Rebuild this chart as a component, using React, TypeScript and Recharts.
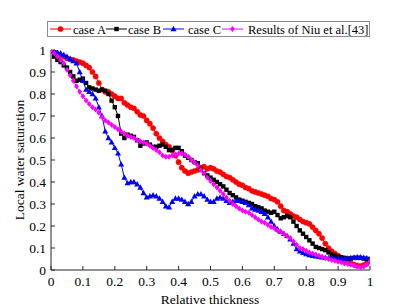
import React from 'react';
import { LineChart, Line, XAxis, YAxis } from 'recharts';

const xs = [
  0, 0.01, 0.02, 0.03, 0.04, 0.05, 0.06, 0.07, 0.08, 0.09,
  0.1, 0.11, 0.12, 0.13, 0.14, 0.15, 0.16, 0.17, 0.18, 0.19,
  0.2, 0.21, 0.22, 0.23, 0.24, 0.25, 0.26, 0.27, 0.28, 0.29,
  0.3, 0.31, 0.32, 0.33, 0.34, 0.35, 0.36, 0.37, 0.38, 0.39,
  0.4, 0.41, 0.42, 0.43, 0.44, 0.45, 0.46, 0.47, 0.48, 0.49,
  0.5, 0.51, 0.52, 0.53, 0.54, 0.55, 0.56, 0.57, 0.58, 0.59,
  0.6, 0.61, 0.62, 0.63, 0.64, 0.65, 0.66, 0.67, 0.68, 0.69,
  0.7, 0.71, 0.72, 0.73, 0.74, 0.75, 0.76, 0.77, 0.78, 0.79,
  0.8, 0.81, 0.82, 0.83, 0.84, 0.85, 0.86, 0.87, 0.88, 0.89,
  0.9, 0.91, 0.92, 0.93, 0.94, 0.95, 0.96, 0.97, 0.98, 0.99, 1,
];

const caseA = [
  1.0, 0.99, 0.98, 0.975, 0.97, 0.962, 0.957, 0.955, 0.95, 0.945,
  0.94, 0.93, 0.92, 0.9, 0.88, 0.85, 0.82, 0.81, 0.81, 0.8,
  0.79, 0.78, 0.78, 0.76, 0.75, 0.74, 0.735, 0.72, 0.705, 0.7,
  0.68, 0.665, 0.645, 0.62, 0.6, 0.585, 0.57, 0.56, 0.545, 0.52,
  0.49, 0.465, 0.45, 0.44, 0.445, 0.45, 0.455, 0.465, 0.47, 0.46,
  0.465, 0.46, 0.45, 0.445, 0.435, 0.425, 0.42, 0.41, 0.4, 0.39,
  0.385, 0.375, 0.37, 0.36, 0.355, 0.35, 0.345, 0.34, 0.335, 0.325,
  0.32, 0.31, 0.29, 0.27, 0.265, 0.255, 0.245, 0.24, 0.23, 0.22,
  0.215, 0.21, 0.195, 0.18, 0.165, 0.145, 0.12, 0.1, 0.085, 0.075,
  0.065, 0.055, 0.045, 0.04, 0.03, 0.025, 0.02, 0.018, 0.022, 0.03, 0.04,
];

const caseB = [
  1.0, 0.97, 0.955, 0.945, 0.93, 0.92, 0.9, 0.88, 0.86, 0.865,
  0.87, 0.85, 0.83, 0.825, 0.82, 0.815, 0.82, 0.815, 0.8, 0.77,
  0.74, 0.7, 0.62, 0.6, 0.615, 0.61, 0.605, 0.59, 0.565, 0.575,
  0.58, 0.57, 0.56, 0.56, 0.565, 0.57, 0.56, 0.545, 0.545, 0.555,
  0.555, 0.54, 0.52, 0.51, 0.5, 0.49, 0.485, 0.46, 0.44, 0.43,
  0.42, 0.41, 0.4, 0.39, 0.38, 0.365, 0.35, 0.34, 0.33, 0.32,
  0.315, 0.31, 0.305, 0.3, 0.29, 0.285, 0.28, 0.27, 0.265, 0.26,
  0.265, 0.25, 0.235, 0.24, 0.245, 0.24, 0.22, 0.2, 0.18, 0.165,
  0.15, 0.135, 0.12, 0.105, 0.1, 0.095, 0.09, 0.08, 0.07, 0.065,
  0.06, 0.058, 0.055, 0.052, 0.052, 0.055, 0.055, 0.055, 0.052, 0.05, 0.045,
];

const caseC = [
  1.0, 0.995, 0.99, 0.985, 0.978, 0.97, 0.96, 0.95, 0.94, 0.9,
  0.86, 0.82, 0.81, 0.8, 0.78, 0.74, 0.7, 0.63, 0.6, 0.58,
  0.555, 0.53, 0.48, 0.42, 0.395, 0.4, 0.4, 0.39, 0.375, 0.35,
  0.33, 0.335, 0.34, 0.335, 0.325, 0.31, 0.29, 0.285, 0.31, 0.325,
  0.325, 0.32, 0.31, 0.3, 0.31, 0.335, 0.345, 0.345, 0.335, 0.32,
  0.31, 0.31, 0.325, 0.33, 0.325, 0.315, 0.305, 0.31, 0.315, 0.315,
  0.31, 0.305, 0.295, 0.28, 0.275, 0.27, 0.265, 0.255, 0.24, 0.22,
  0.2, 0.185, 0.175, 0.165, 0.155, 0.14, 0.12, 0.095, 0.085, 0.078,
  0.072, 0.068, 0.065, 0.062, 0.06, 0.058, 0.056, 0.055, 0.054, 0.053,
  0.052, 0.052, 0.052, 0.053, 0.055, 0.057, 0.058, 0.058, 0.056, 0.054, 0.05,
];

const niu = [
  1.0, 0.985, 0.97, 0.955, 0.94, 0.91, 0.885, 0.86, 0.835, 0.81,
  0.79, 0.77, 0.755, 0.74, 0.73, 0.715, 0.695, 0.68, 0.67, 0.66,
  0.65, 0.64, 0.63, 0.62, 0.61, 0.605, 0.6, 0.59, 0.585, 0.58,
  0.575, 0.565, 0.555, 0.545, 0.535, 0.52, 0.515, 0.515, 0.52, 0.525,
  0.53, 0.53, 0.525, 0.515, 0.5, 0.49, 0.475, 0.455, 0.44, 0.42,
  0.405, 0.39, 0.375, 0.36, 0.345, 0.33, 0.315, 0.3, 0.29, 0.28,
  0.27, 0.265, 0.26, 0.25, 0.24, 0.23, 0.22, 0.215, 0.205, 0.195,
  0.19, 0.18, 0.175, 0.165, 0.155, 0.145, 0.13, 0.115, 0.1, 0.095,
  0.088, 0.08, 0.075, 0.07, 0.065, 0.06, 0.055, 0.05, 0.046, 0.042,
  0.038, 0.035, 0.03, 0.027, 0.025, 0.02, 0.015, 0.012, 0.015, 0.025, 0.04,
];

const xTicks = [0, 0.1, 0.2, 0.3, 0.4, 0.5, 0.6, 0.7, 0.8, 0.9, 1];
const yTicks = [0, 0.1, 0.2, 0.3, 0.4, 0.5, 0.6, 0.7, 0.8, 0.9, 1];

const seriesNames = ['case A', 'case B', 'case C', 'Results of Niu et al.[43]'];
const seriesColors = ['#ff0000', '#000000', '#0000ff', '#ff00ff'];

const data = xs.map((x, i) => ({ x, a: caseA[i], b: caseB[i], c: caseC[i], d: niu[i] }));

const FONT = '"Liberation Serif", "Times New Roman", serif';
const AXIS = '#262626';

function Marker({ kind, cx, cy, color }: { kind: number; cx: number; cy: number; color: string }) {
  if (cx == null || cy == null || isNaN(cx) || isNaN(cy)) return null;
  if (kind === 0) return <circle cx={cx} cy={cy} r={2.6} fill={color} stroke={color} strokeWidth={0.5} />;
  if (kind === 1) return <rect x={cx - 2.2} y={cy - 2.2} width={4.4} height={4.4} fill={color} />;
  if (kind === 2)
    return <polygon points={`${cx},${cy - 3.2} ${cx - 3},${cy + 2.2} ${cx + 3},${cy + 2.2}`} fill={color} />;
  return <polygon points={`${cx},${cy - 3} ${cx + 2.4},${cy} ${cx},${cy + 3} ${cx - 2.4},${cy}`} fill={color} />;
}

const makeDot = (kind: number, color: string) => (props: any) => (
  <Marker key={`${kind}-${props.index}`} kind={kind} cx={props.cx} cy={props.cy} color={color} />
);

const legendItems = [
  { lx: 50, tx: 73 },
  { lx: 106, tx: 128 },
  { lx: 163, tx: 188 },
  { lx: 222, tx: 248 },
];

const XTick = (props: any) => (
  <text x={props.x} y={props.y} dy="0.75em" textAnchor="middle" fontFamily={FONT} fontSize={13.5} fill="#000">
    {String(props.payload.value)}
  </text>
);

const YTick = (props: any) => (
  <text x={props.x} y={props.y} dy="0.36em" textAnchor="end" fontFamily={FONT} fontSize={13.5} fill="#000">
    {String(props.payload.value)}
  </text>
);

export default function App() {
  return (
    <div style={{ position: 'absolute', left: 0, top: 0, width: 407, height: 307, background: '#fff', fontFamily: FONT }}>
      <LineChart
        width={407}
        height={307}
        data={data}
        margin={{ top: 50, right: 37, bottom: 0, left: 0 }}
      >
        <XAxis
          xAxisId="b"
          dataKey="x"
          type="number"
          domain={[0, 1]}
          ticks={xTicks}
          interval={0}
          height={37}
          tickSize={-4}
          tickMargin={10}
          stroke={AXIS}
          tick={XTick}
          tickLine={{ stroke: AXIS }}
          axisLine={{ stroke: AXIS }}
          allowDataOverflow
        />
        <XAxis
          xAxisId="t"
          orientation="top"
          dataKey="x"
          type="number"
          domain={[0, 1]}
          ticks={xTicks}
          height={0}
          tickSize={-4}
          tick={false}
          tickLine={{ stroke: AXIS }}
          axisLine={{ stroke: AXIS }}
          stroke={AXIS}
        />
        <YAxis
          yAxisId="l"
          type="number"
          domain={[0, 1]}
          ticks={yTicks}
          interval={0}
          width={51}
          tickSize={-4}
          tickMargin={9}
          stroke={AXIS}
          tick={YTick}
          tickLine={{ stroke: AXIS }}
          axisLine={{ stroke: AXIS }}
          allowDataOverflow
        />
        <YAxis
          yAxisId="r"
          orientation="right"
          type="number"
          domain={[0, 1]}
          ticks={yTicks}
          width={0}
          tickSize={-4}
          tick={false}
          tickLine={{ stroke: AXIS }}
          axisLine={{ stroke: AXIS }}
          stroke={AXIS}
        />
        <Line xAxisId="b" yAxisId="l" dataKey="a" stroke={seriesColors[0]} strokeWidth={1} dot={makeDot(0, seriesColors[0])} isAnimationActive={false} />
        <Line xAxisId="b" yAxisId="l" dataKey="b" stroke={seriesColors[1]} strokeWidth={1} dot={makeDot(1, seriesColors[1])} isAnimationActive={false} />
        <Line xAxisId="b" yAxisId="l" dataKey="c" stroke={seriesColors[2]} strokeWidth={1} dot={makeDot(2, seriesColors[2])} isAnimationActive={false} />
        <Line xAxisId="b" yAxisId="l" dataKey="d" stroke={seriesColors[3]} strokeWidth={1} dot={makeDot(3, seriesColors[3])} isAnimationActive={false} />
      </LineChart>
      <svg width={407} height={307} style={{ position: 'absolute', left: 0, top: 0, pointerEvents: 'none' }}>
        <rect x={47.5} y={21.5} width={322} height={15} fill="#fff" stroke="#8c8c8c" strokeWidth={1} />
        {legendItems.map((it, i) => (
          <g key={i}>
            <line x1={it.lx} x2={it.lx + 21} y1={29} y2={29} stroke={seriesColors[i]} strokeWidth={1} />
            <Marker kind={i} cx={it.lx + 10.5} cy={29} color={seriesColors[i]} />
            <text x={it.tx} y={33.5} fontFamily={FONT} fontSize={12.5} fill="#000">
              {seriesNames[i]}
            </text>
          </g>
        ))}
        <text x={210} y={304} textAnchor="middle" fontFamily={FONT} fontSize={13.5} fill="#000">
          Relative thickness
        </text>
        <text
          x={24}
          y={160}
          textAnchor="middle"
          transform="rotate(-90 24 160)"
          fontFamily={FONT}
          fontSize={13.5}
          fill="#000"
        >
          Local water saturation
        </text>
      </svg>
    </div>
  );
}
